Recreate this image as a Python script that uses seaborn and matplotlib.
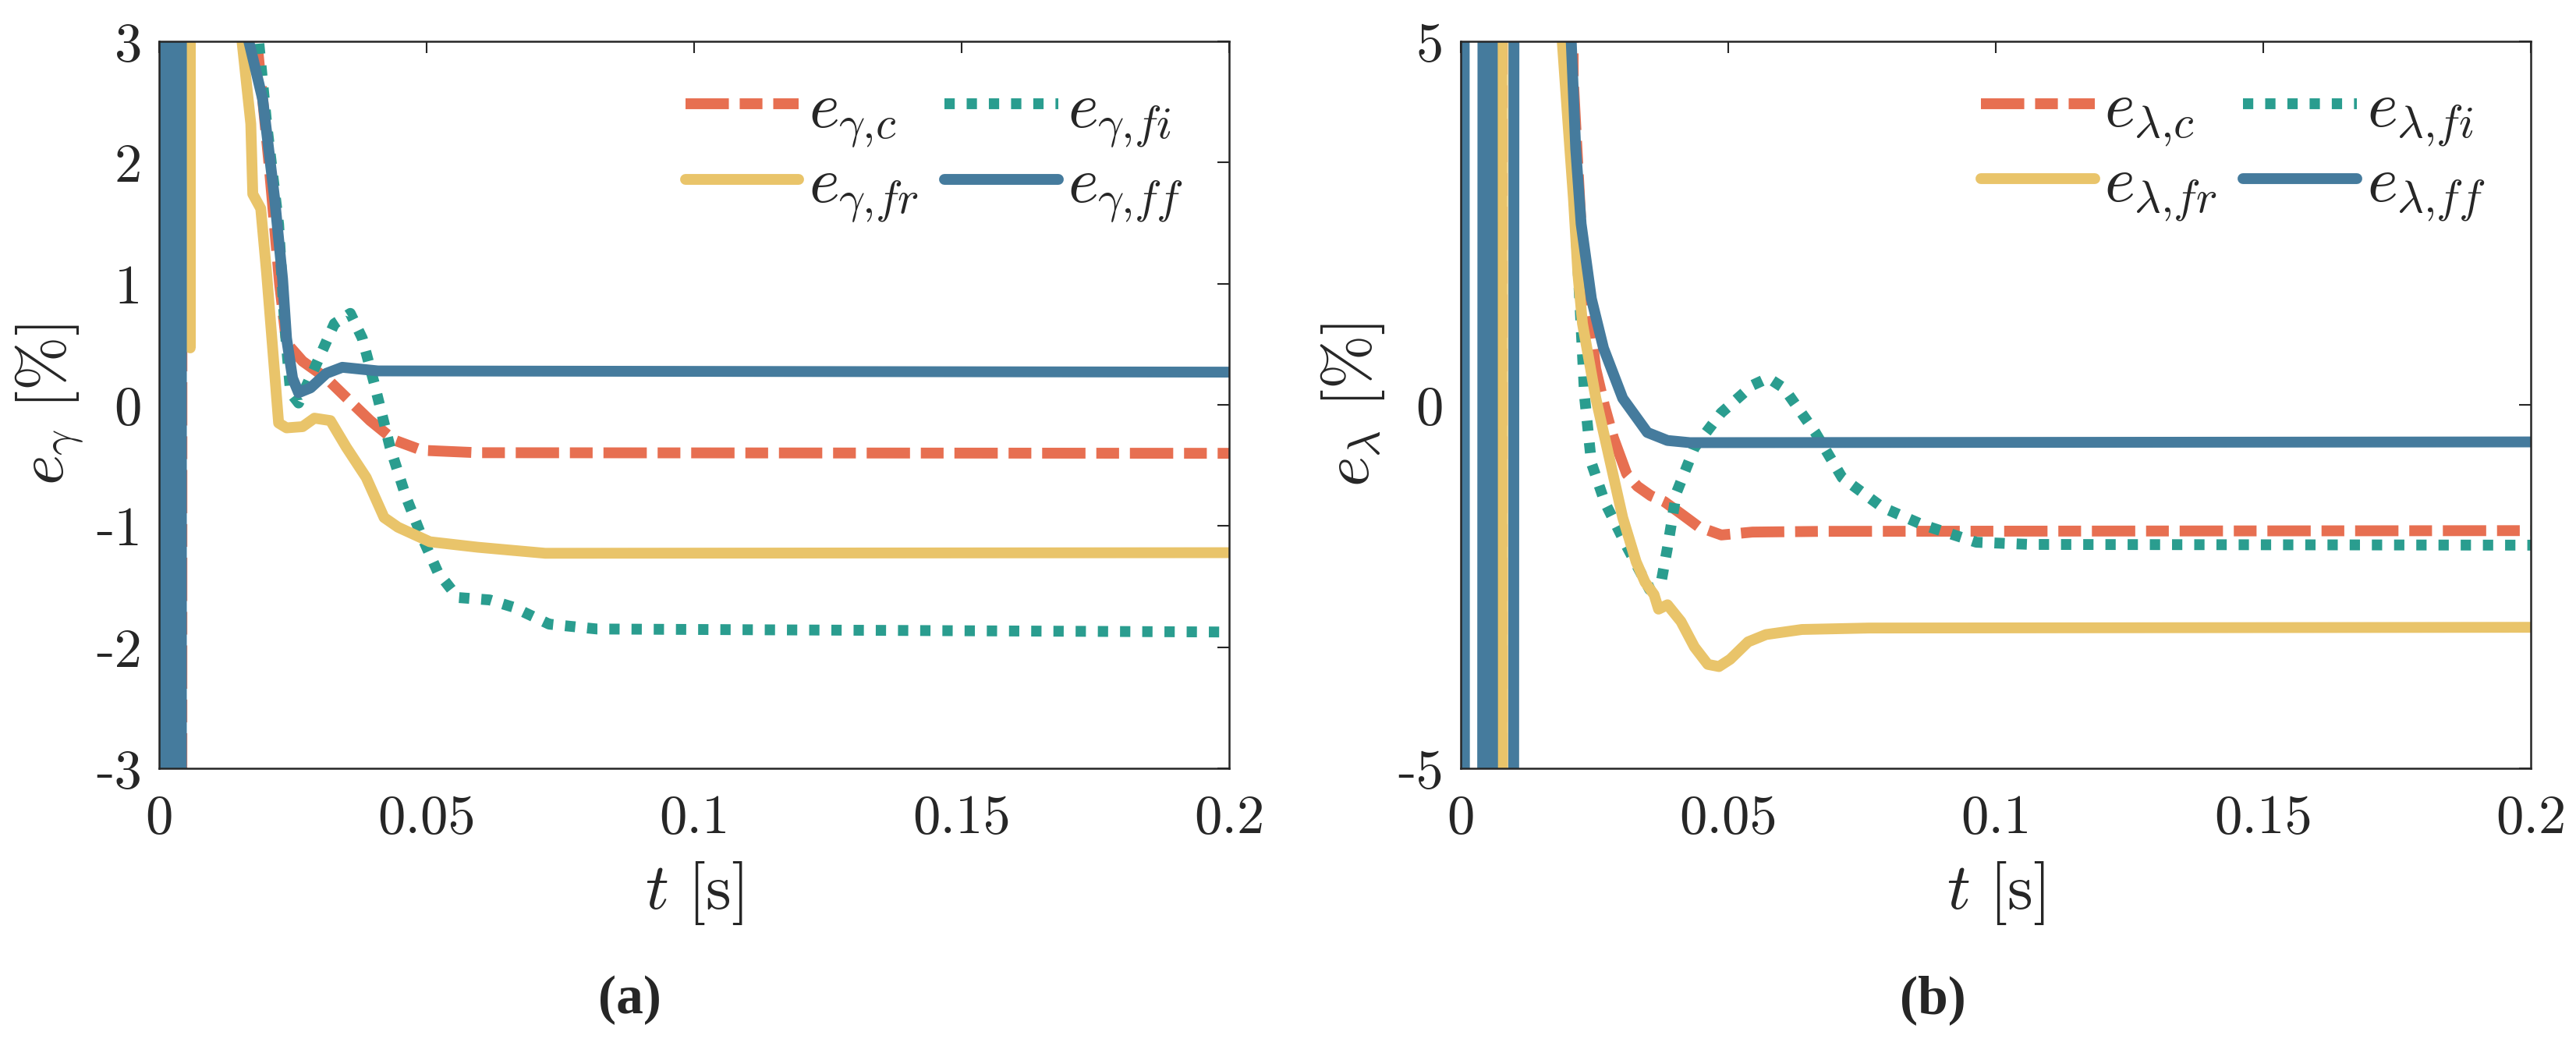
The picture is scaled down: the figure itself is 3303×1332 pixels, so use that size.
import pandas as pd
import matplotlib.pyplot as plt
import seaborn as sns
from matplotlib.lines import Line2D

# series: c, fi, fr, ff
series = ["c", "fi", "fr", "ff"]
colores = {"c": "#E76F51", "fi": "#2A9D8F", "fr": "#E9C46A", "ff": "#457B9D"}
guiones = {"c": (4.0, 1.0, 2.1, 1.0), "fi": (0.95, 1.1), "fr": "", "ff": ""}

# ---- (a) e_gamma ----
t_a_c = [0.0010, 0.0016, 0.0041, 0.0044, 0.0170, 0.0176, 0.0205, 0.0225, 0.0238, 0.0268,
         0.03125, 0.03497, 0.03943, 0.04389, 0.0491, 0.0595, 0.2]
e_a_c = [40, -40, -40, 40, 40, 3.3, 2.0, 1.0, 0.51, 0.36,
         0.22, 0.06, -0.13, -0.29, -0.375, -0.395, -0.40]

t_a_fi = [0.0180, 0.0186, 0.02009, 0.02232, 0.02344, 0.02455, 0.02605, 0.02901, 0.03274,
          0.03572, 0.03795, 0.04018, 0.04315, 0.04613, 0.0491, 0.05207, 0.05579, 0.06175,
          0.06621, 0.07289, 0.08183, 0.2]
e_a_fi = [40, 3.0, 2.32, 1.49, 0.67, 0.10, 0.015, 0.30, 0.67,
          0.755, 0.55, 0.18, -0.35, -0.76, -1.09, -1.38, -1.59, -1.61,
          -1.67, -1.81, -1.85, -1.875]

t_a_fr = [0.0057, 0.0058, 0.0059, 0.0150, 0.01548, 0.01712, 0.01749, 0.01898, 0.02009,
          0.02158, 0.02232, 0.0238, 0.0268, 0.02901, 0.032, 0.03497, 0.03869, 0.04203,
          0.04464, 0.05058, 0.0595, 0.07216, 0.2]
e_a_fr = [40, 0.47, 40, 40, 3.0, 2.32, 1.74, 1.62, 1.08,
          0.26, -0.15, -0.19, -0.18, -0.11, -0.13, -0.35, -0.60, -0.93,
          -1.01, -1.13, -1.175, -1.225, -1.22]

t_a_ff = [0.0005, 0.0010, 0.0016, 0.0022, 0.0028, 0.0033, 0.0038, 0.0041, 0.0042, 0.0160,
          0.01675, 0.01935, 0.02158, 0.02306, 0.0238, 0.02493, 0.02605, 0.02828, 0.03125,
          0.03423, 0.0409, 0.2]
e_a_ff = [40, -40, 40, -40, 40, -40, 40, -40, 40, 40,
          3.0, 2.52, 1.70, 1.04, 0.55, 0.22, 0.10, 0.14, 0.26,
          0.31, 0.28, 0.27]

# ---- (b) e_lambda ----
t_b_c = [0.0045, 0.0050, 0.0074, 0.0079, 0.0200, 0.0210, 0.0228, 0.0252, 0.0268, 0.0285,
         0.0310, 0.0330, 0.0355, 0.0380, 0.0412, 0.0445, 0.0487, 0.0545, 0.0679, 0.2]
e_b_c = [60, -60, -60, 60, 60, 4.5, 2.0, 0.5, 0.0, -0.45,
         -0.95, -1.12, -1.25, -1.33, -1.50, -1.68, -1.79, -1.75, -1.74, -1.73]

t_b_fi = [0.0050, 0.0055, 0.0060, 0.0195, 0.0200, 0.0212, 0.0223, 0.02314, 0.0244, 0.02691,
          0.0311, 0.03528, 0.03736, 0.03863, 0.04029, 0.04365, 0.04866, 0.05452, 0.05745,
          0.06038, 0.06624, 0.07126, 0.07879, 0.08633, 0.09636, 0.1064, 0.2]
e_b_fi = [60, -60, 60, 60, 5.5, 2.8, 1.33, 0.10, -0.80, -1.34,
          -1.96, -2.54, -2.47, -1.96, -1.21, -0.59, -0.11, 0.27, 0.37,
          0.23, -0.38, -1.00, -1.41, -1.65, -1.89, -1.92, -1.93]

t_b_fr = [0.0075, 0.0077, 0.0078, 0.0096, 0.0100, 0.0185, 0.01895, 0.02004, 0.02105,
          0.02188, 0.02273, 0.02523, 0.02732, 0.03025, 0.03277, 0.03443, 0.03611, 0.03695,
          0.03862, 0.04114, 0.04365, 0.04616, 0.04824, 0.05034, 0.05369, 0.05703, 0.06374,
          0.07628, 0.2]
e_b_fr = [60, -3.9, -60, -60, 60, 60, 5.0, 3.86, 2.83,
          1.80, 1.12, 0.09, -0.59, -1.55, -2.16, -2.44, -2.61, -2.81,
          -2.75, -2.98, -3.33, -3.57, -3.60, -3.50, -3.26, -3.16, -3.09,
          -3.07, -3.06]

t_b_ff = [0.0004, 0.0009, 0.0036, 0.0038, 0.0044, 0.0050, 0.0056, 0.0062, 0.0096, 0.0102,
          0.0200, 0.02063, 0.02147, 0.02248, 0.0244, 0.02666, 0.03025, 0.03486, 0.03862,
          0.0428, 0.2]
e_b_ff = [60, -60, -60, -60, 60, -60, 60, -60, -60, 60,
          60, 5.0, 3.52, 2.49, 1.46, 0.78, 0.09, -0.38, -0.49,
          -0.52, -0.51]

x_ticks = [0, 0.05, 0.1, 0.15, 0.2]
x_labels = ["0", "0.05", "0.1", "0.15", "0.2"]
y_ticks_a = [-3, -2, -1, 0, 1, 2, 3]
y_labels_a = ["-3", "-2", "-1", "0", "1", "2", "3"]
y_ticks_b = [-5, 0, 5]
y_labels_b = ["-5", "0", "5"]

etiquetas_a = {"c": r"$e_{\gamma{,}c}$", "fi": r"$e_{\gamma{,}fi}$",
               "fr": r"$e_{\gamma{,}fr}$", "ff": r"$e_{\gamma{,}ff}$"}
etiquetas_b = {"c": r"$e_{\lambda{,}c}$", "fi": r"$e_{\lambda{,}fi}$",
               "fr": r"$e_{\lambda{,}fr}$", "ff": r"$e_{\lambda{,}ff}$"}


def armar_df(datos):
    filas = []
    for s, (ts, es) in datos.items():
        for t, e in zip(ts, es):
            filas.append({"t": t, "e": e, "serie": s})
    return pd.DataFrame(filas)


df_a = armar_df({"c": (t_a_c, e_a_c), "fi": (t_a_fi, e_a_fi),
                 "fr": (t_a_fr, e_a_fr), "ff": (t_a_ff, e_a_ff)})
df_b = armar_df({"c": (t_b_c, e_b_c), "fi": (t_b_fi, e_b_fi),
                 "fr": (t_b_fr, e_b_fr), "ff": (t_b_ff, e_b_ff)})

sns.set_style("white")
plt.rcParams["font.family"] = "cmr10"
plt.rcParams["mathtext.fontset"] = "cm"
plt.rcParams["axes.formatter.use_mathtext"] = True

gris = "#262626"
fig = plt.figure(figsize=(33.03, 13.32), dpi=100)
ax_a = fig.add_axes([0.0618, 0.2605, 0.4154, 0.6997])
ax_b = fig.add_axes([0.5671, 0.2605, 0.4154, 0.6997])

paneles = [
    (ax_a, df_a, (-3, 3), y_ticks_a, y_labels_a, r"$e_{\gamma}\ [\%]$", etiquetas_a),
    (ax_b, df_b, (-5, 5), y_ticks_b, y_labels_b, r"$e_{\lambda}\ [\%]$", etiquetas_b),
]

for ax, df, ylim, yt, yl, ylab, etiq in paneles:
    sns.lineplot(
        data=df, x="t", y="e",
        hue="serie", style="serie",
        hue_order=series, style_order=series,
        palette=colores, dashes=guiones,
        linewidth=10, estimator=None, sort=True,
        legend=False, ax=ax
    )
    ax.set_xlim(0, 0.2)
    ax.set_ylim(*ylim)
    ax.set_xticks(x_ticks)
    ax.set_xticklabels(x_labels)
    ax.set_yticks(yt)
    ax.set_yticklabels(yl)
    ax.tick_params(axis="both", direction="in", length=10.8, width=1.5,
                   colors=gris, labelsize=51, top=True, right=True)
    ax.tick_params(axis="x", pad=24)
    ax.tick_params(axis="y", pad=16)
    for sp in ax.spines.values():
        sp.set_visible(True)
        sp.set_linewidth(1.8)
        sp.set_color(gris)
    ax.set_xlabel(r"$t\ [\mathrm{s}]$", fontsize=60, color=gris, labelpad=14)
    ax.set_ylabel(ylab, fontsize=60, color=gris, labelpad=10)

    # leyenda en dos columnas (orden como MATLAB: c, fi / fr, ff)
    orden = ["c", "fr", "fi", "ff"]
    manejadores = []
    for s in orden:
        ln = Line2D([0], [0], color=colores[s], linewidth=10)
        if guiones[s]:
            ln.set_dashes(guiones[s])
        manejadores.append(ln)
    ax.legend(manejadores, [etiq[s] for s in orden], ncol=2, frameon=False,
              loc="upper right", bbox_to_anchor=(0.957, 0.945), fontsize=60,
              handlelength=1.75, handletextpad=0.15, columnspacing=0.4,
              labelspacing=0.12, borderpad=0, borderaxespad=0)

fig.text(807 / 3303, 1 - 1282 / 1332, "(a)", ha="center", va="center",
         fontsize=50, fontweight="bold", family="Liberation Serif")
fig.text(2478 / 3303, 1 - 1282 / 1332, "(b)", ha="center", va="center",
         fontsize=50, fontweight="bold", family="Liberation Serif")

fig.savefig("out.png", dpi=100)
